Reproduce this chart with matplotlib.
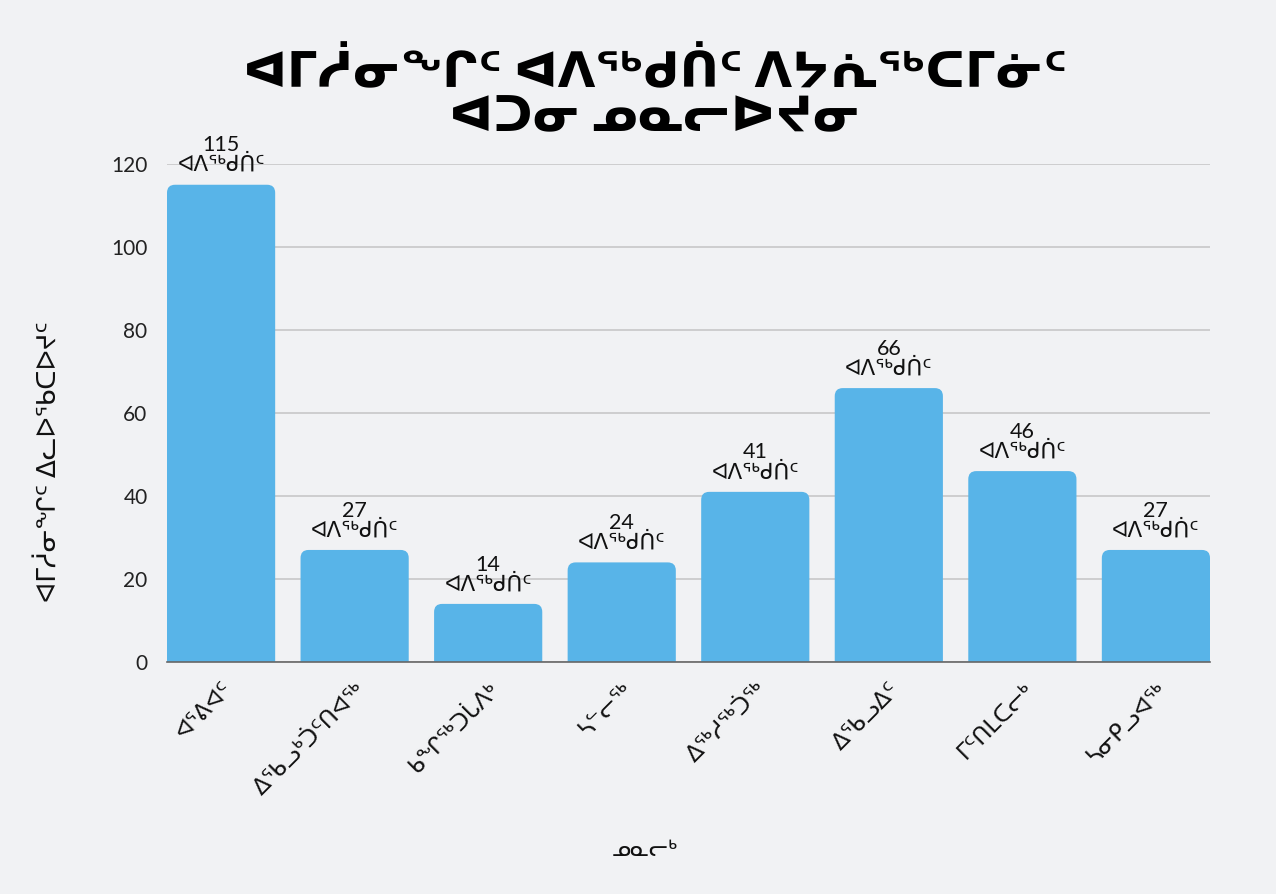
import matplotlib
matplotlib.use("Agg")
import matplotlib.pyplot as plt
from matplotlib.patches import FancyBboxPatch

communities = ["ᐊᕐᕕᐊᑦ", "ᐃᖃᓗᒃᑑᑦᑎᐊᖅ", "ᑲᖏᖅᑐᒑᐱᒃ", "ᓴᓪᓕᖅ", "ᐃᖅᓱᖅᑑᖅ",
               "ᐃᖃᓗᐃᑦ", "ᒥᑦᑎᒪᑕᓕᒃ", "ᓴᓂᑭᓗᐊᖅ"]
counts = [115, 27, 14, 24, 41, 66, 46, 27]
unit = "ᐊᐱᖅᑯᑏᑦ"
yticks = [0, 20, 40, 60, 80, 100, 120]
title1 = "ᐊᒥᓲᓂᖏᑦ ᐊᐱᖅᑯᑏᑦ ᐱᔭᕇᖅᑕᒥᓃᑦ"
title2 = "ᐊᑐᓂ ᓄᓇᓕᐅᔪᓂ"
xlabel = "ᓄᓇᓕᒃ"
ylabel = "ᐊᒥᓲᓂᖏᑦ ᐃᓚᐅᖃᑕᐅᔪᑦ"

BG = "#F1F2F4"
BAR = "#58B4E8"
FAM = ["Lato", "DejaVu Sans"]
plt.rcParams['font.family'] = FAM

fig = plt.figure(figsize=(12.76, 8.94), dpi=100, facecolor=BG)
ax = fig.add_axes([167/1276, 1-662/894, (1210-167)/1276, (662-164)/894])
ax.set_facecolor(BG)

width = 0.81
x = list(range(len(communities)))
bars = ax.bar(x, counts, width=width, color=BAR, alpha=0)
ax.set_xlim(-width/2, len(communities) - 1 + width/2)
ax.set_ylim(0, 120)

# rounded bars
px_x = (ax.get_xlim()[1] - ax.get_xlim()[0]) / 1043
px_y = 120 / 498
r = 8 * px_x
aspect = px_y / px_x
for b in bars:
    p = FancyBboxPatch((b.get_x(), -20), b.get_width(), b.get_height() + 20,
                       boxstyle=f"round,pad=0,rounding_size={r}",
                       mutation_aspect=aspect, facecolor=BAR, edgecolor="none",
                       zorder=2)
    ax.add_patch(p)
    ax.annotate(f"{int(b.get_height())}\n{unit}",
                (b.get_x() + b.get_width()/2, b.get_height()),
                xytext=(0, 7), textcoords="offset points", ha="center", va="bottom",
                fontsize=15.5, color="#111111", linespacing=0.95, zorder=3)

ax.set_yticks(yticks)
ax.set_yticklabels([str(v) for v in yticks], fontsize=15, color="#222222")
ax.tick_params(axis="y", length=0, pad=14)
ax.grid(axis="y", color="#C4C4C4", lw=1.1, zorder=0)
ax.set_axisbelow(True)
for s in ["top", "right", "left"]:
    ax.spines[s].set_visible(False)
ax.spines["bottom"].set_color("#666666")
ax.spines["bottom"].set_linewidth(1.2)
ax.spines["bottom"].set_zorder(4)

ax.set_xticks(x)
ax.set_xticklabels(communities, rotation=45, ha="right", rotation_mode="anchor",
                   fontsize=16.5, color="#111111")
ax.tick_params(axis="x", length=0, pad=12)

fig.text(655/1276, 1-72/894, title1, ha="center", va="center", fontsize=35,
         fontweight="bold", color="#000000")
fig.text(655/1276, 1-117/894, title2, ha="center", va="center", fontsize=35,
         fontweight="bold", color="#000000")
fig.text(645/1276, 1-850/894, xlabel, ha="center", va="center", fontsize=16,
         color="#111111")
fig.text(48/1276, 1-462/894, ylabel, ha="center", va="center", fontsize=19,
         rotation=90, color="#111111")

fig.savefig("out.png", dpi=100, facecolor=BG)
